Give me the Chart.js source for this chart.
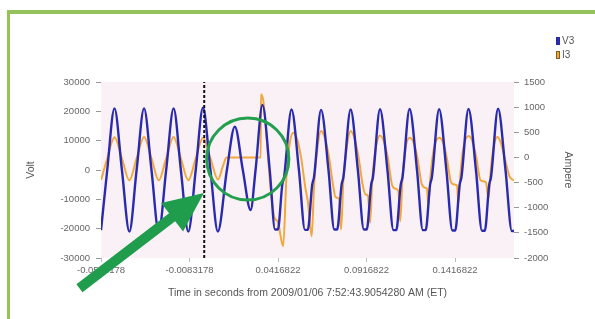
<!DOCTYPE html>
<html>
<head>
<meta charset="utf-8">
<script src="https://cdn.jsdelivr.net/npm/chart.js@4.4.1/dist/chart.umd.min.js"></script>
<style>
  html, body { margin: 0; padding: 0; background: #fff; }
  #wrap { position: relative; width: 595px; height: 319px; overflow: hidden; }
  #frame { position: absolute; left: 7px; top: 10px; width: 700px; height: 400px;
           border-top: 4px solid #95c25b; border-left: 3px solid #95c25b; }
  #chart { position: absolute; left: 0; top: 0; }
  .leg { position: absolute; left: 556px; font: 10px "Liberation Sans", Arial, sans-serif;
         color: #555; line-height: 10px; white-space: nowrap; }
  .sw { display: inline-block; width: 4px; height: 8px; margin-right: 2px; vertical-align: -1px; box-sizing: border-box; }
</style>
</head>
<body>
<div id="wrap">
  <div id="frame"></div>
  <canvas id="chart" width="595" height="319"></canvas>
  <div class="leg" style="top:36px"><span class="sw" style="background:#2a2ab0"></span>V3</div>
  <div class="leg" style="top:50px"><span class="sw" style="background:#f3a73a;border:1px solid #8a5a14"></span>I3</div>
</div>
<script>
// axes
const xTickValues = [-0.0583178, -0.0083178, 0.0416822, 0.0916822, 0.1416822];
const xTickLabels = ['-0.0583178', '-0.0083178', '0.0416822', '0.0916822', '0.1416822'];
const voltTicks = [-30000, -20000, -10000, 0, 10000, 20000, 30000];
const ampTicks = [-2000, -1500, -1000, -500, 0, 500, 1000, 1500];

// V3 (Volt)
const v3Time = [-0.0583, -0.0548, -0.0507, -0.0465, -0.0423, -0.0382, -0.0340, -0.0298, -0.0257, -0.0215,
  -0.0173, -0.0132, -0.0090, -0.0048, -0.0007, 0.0035, 0.0077, 0.0128, 0.0173, 0.0218,
  0.0262, 0.0290, 0.0329, 0.0370, 0.0400, 0.0416, 0.0441, 0.0451, 0.0493, 0.0535,
  0.0569, 0.0585, 0.0610, 0.0620, 0.0660, 0.0702, 0.0735, 0.0751, 0.0776, 0.0786,
  0.0827, 0.0868, 0.0902, 0.0918, 0.0943, 0.0953, 0.0993, 0.1035, 0.1069, 0.1085,
  0.1110, 0.1120, 0.1160, 0.1202, 0.1235, 0.1251, 0.1276, 0.1286, 0.1327, 0.1368,
  0.1402, 0.1418, 0.1443, 0.1453, 0.1493, 0.1535, 0.1569, 0.1585, 0.1610, 0.1620,
  0.1660, 0.1702, 0.1738, 0.1750];
const v3Volt = [-20500, 0, 21000, 0, -21000, 0, 21000, 0, -21000, 0,
  21000, 0, -21000, 0, 21200, 0, -21000, 0, 14800, 0,
  -13650, 0, 22200, 0, -20300, -20300, -5000, -2500, 20600, 0,
  -20400, -20400, -5000, -2500, 20500, 0, -20300, -20300, -5000, -2500,
  20600, 0, -20300, -20300, -5000, -2500, 20700, 0, -20500, -20500,
  -5000, -2500, 20800, 0, -20500, -20500, -5000, -2500, 20700, 0,
  -20600, -20600, -5000, -2500, 20800, 0, -20700, -20700, -5000, -2500,
  20900, 0, -20800, -20800];

// I3 (Ampere)
const i3Time = [-0.0583, -0.0548, -0.0507, -0.0465, -0.0423, -0.0382, -0.0340, -0.0298, -0.0257, -0.0215,
  -0.0173, -0.0132, -0.0090, -0.0048, -0.0007, 0.0035, 0.0078, 0.0105, 0.0126, 0.0319,
  0.0320, 0.0334, 0.0354, 0.0373, 0.0397, 0.0415, 0.0446, 0.0465, 0.0485, 0.0504,
  0.0525, 0.0547, 0.0572, 0.0585, 0.0607, 0.0620, 0.0640, 0.0660, 0.0682, 0.0705,
  0.0730, 0.0742, 0.0762, 0.0773, 0.0786, 0.0806, 0.0827, 0.0849, 0.0872, 0.0897,
  0.0912, 0.0925, 0.0937, 0.0950, 0.0970, 0.0993, 0.1015, 0.1037, 0.1062, 0.1080,
  0.1097, 0.1107, 0.1120, 0.1138, 0.1160, 0.1182, 0.1204, 0.1228, 0.1249, 0.1258,
  0.1266, 0.1278, 0.1296, 0.1327, 0.1349, 0.1370, 0.1395, 0.1413, 0.1428, 0.1436,
  0.1447, 0.1462, 0.1493, 0.1515, 0.1537, 0.1560, 0.1577, 0.1592, 0.1606, 0.1617,
  0.1632, 0.1655, 0.1675, 0.1700, 0.1725, 0.1750];
const i3Amp = [-450, -20, 400, -20, -455, -20, 405, -20, -455, -20,
  405, -20, -455, -20, 390, -20, -440, -180, 0, 0,
  1255, 1120, 325, -540, -1200, -1270, -1767, -340, 325, 490,
  360, 0, -620, -870, -1568, -600, 200, 524, 380, 0,
  -600, -790, -830, -1434, -450, 220, 524, 380, 0, -580,
  -737, -760, -1300, -420, 200, 438, 320, 0, -560, -620,
  -670, -1270, -400, 200, 392, 300, 0, -520, -604, -620,
  -940, -380, 150, 392, 300, 0, -500, -538, -560, -900,
  -350, 150, 424, 320, 0, -450, -472, -500, -830, -320,
  150, 404, 300, -50, -380, -460];

// moment marked by the dashed line
const markerTime = 0;

// hand-drawn markup, placed in data units
const circleAt = { t: 0.0246, v: 3750, rT: 0.0232 };
const arrowTip = { t: -0.0002, v: -7800 };
const arrowTail = { t: -0.0705, v: -40300 };

const toPoints = (xs, ys) => xs.map((x, i) => ({ x: x, y: ys[i] }));

const markup = {
  id: 'markup',
  beforeDraw(chart) {
    const { ctx, chartArea: a } = chart;
    ctx.save();
    ctx.fillStyle = '#faf1f7';
    ctx.fillRect(a.left, a.top, a.right - a.left, a.bottom - a.top);
    ctx.restore();
  },
  afterDraw(chart) {
    const { ctx } = chart;
    const xs = chart.scales.x, ys = chart.scales.y;
    ctx.save();
    // circle
    const cx = xs.getPixelForValue(circleAt.t), cy = ys.getPixelForValue(circleAt.v);
    const r = xs.getPixelForValue(circleAt.t + circleAt.rT) - cx;
    ctx.strokeStyle = '#23a04e';
    ctx.lineWidth = 3;
    ctx.beginPath();
    ctx.arc(cx, cy, r, 0, Math.PI * 2);
    ctx.stroke();
    // arrow
    const tx = xs.getPixelForValue(arrowTip.t), ty = ys.getPixelForValue(arrowTip.v);
    const sx = xs.getPixelForValue(arrowTail.t), sy = ys.getPixelForValue(arrowTail.v);
    const len = Math.hypot(tx - sx, ty - sy);
    const ux = (tx - sx) / len, uy = (ty - sy) / len;
    const nx = -uy, ny = ux;
    const head = 40, hw = 18, sw = 5;
    const bx = tx - ux * head, by = ty - uy * head;
    ctx.fillStyle = '#1f9d4c';
    ctx.beginPath();
    ctx.moveTo(sx + nx * sw, sy + ny * sw);
    ctx.lineTo(bx + nx * sw, by + ny * sw);
    ctx.lineTo(bx + nx * hw, by + ny * hw);
    ctx.lineTo(tx, ty);
    ctx.lineTo(bx - nx * hw, by - ny * hw);
    ctx.lineTo(bx - nx * sw, by - ny * sw);
    ctx.lineTo(sx - nx * sw, sy - ny * sw);
    ctx.closePath();
    ctx.fill();
    ctx.restore();
  }
};

const tickFont = { family: '"Liberation Sans", Arial, sans-serif', size: 9.5 };
const titleFont = { family: '"Liberation Sans", Arial, sans-serif', size: 10.5 };

new Chart(document.getElementById('chart'), {
  type: 'line',
  data: {
    datasets: [
      {
        label: 'marker',
        data: [{ x: markerTime, y: -30000 }, { x: markerTime, y: 30000 }],
        borderColor: '#111',
        borderWidth: 2,
        borderDash: [3, 2],
        yAxisID: 'y',
        order: 0
      },
      {
        label: 'V3',
        data: toPoints(v3Time, v3Volt),
        borderColor: '#2a2ab0',
        borderWidth: 2.4,
        cubicInterpolationMode: 'monotone',
        yAxisID: 'y',
        order: 1
      },
      {
        label: 'I3',
        data: toPoints(i3Time, i3Amp),
        borderColor: '#f3a73a',
        borderWidth: 2,
        cubicInterpolationMode: 'monotone',
        yAxisID: 'y1',
        order: 2
      }
    ]
  },
  options: {
    responsive: false,
    animation: false,
    events: [],
    layout: { padding: { left: 21, right: 17, top: 82, bottom: 16 } },
    elements: { point: { radius: 0 } },
    plugins: { legend: { display: false }, tooltip: { enabled: false } },
    scales: {
      x: {
        type: 'linear',
        min: -0.0583178,
        max: 0.175,
        afterBuildTicks: s => { s.ticks = xTickValues.map(v => ({ value: v })); },
        afterFit: s => { s.height = 45; },
        ticks: {
          callback: (v, i) => xTickLabels[i],
          font: tickFont, color: '#666', padding: 3, maxRotation: 0, autoSkip: false
        },
        grid: { drawOnChartArea: false, tickLength: 4, color: '#bbb' },
        border: { display: false },
        title: { display: true, text: 'Time in seconds from 2009/01/06 7:52:43.9054280 AM (ET)',
                 font: titleFont, color: '#555' }
      },
      y: {
        position: 'left',
        min: -30000,
        max: 30000,
        afterBuildTicks: s => { s.ticks = voltTicks.map(v => ({ value: v })); },
        afterFit: s => { s.width = 80; },
        ticks: { callback: v => String(v), font: tickFont, color: '#666', padding: 6 },
        grid: { drawOnChartArea: false, tickLength: 5, color: '#999' },
        border: { display: false },
        title: { display: true, text: 'Volt', font: titleFont, color: '#555' }
      },
      y1: {
        position: 'right',
        min: -2000,
        max: 1500,
        afterBuildTicks: s => { s.ticks = ampTicks.map(v => ({ value: v })); },
        afterFit: s => { s.width = 64; },
        ticks: { callback: v => String(v), font: tickFont, color: '#666', padding: 5 },
        grid: { drawOnChartArea: false, tickLength: 5, color: '#999' },
        border: { display: false },
        title: { display: true, text: 'Ampere', font: titleFont, color: '#555' }
      }
    }
  },
  plugins: [markup]
});
</script>
</body>
</html>
